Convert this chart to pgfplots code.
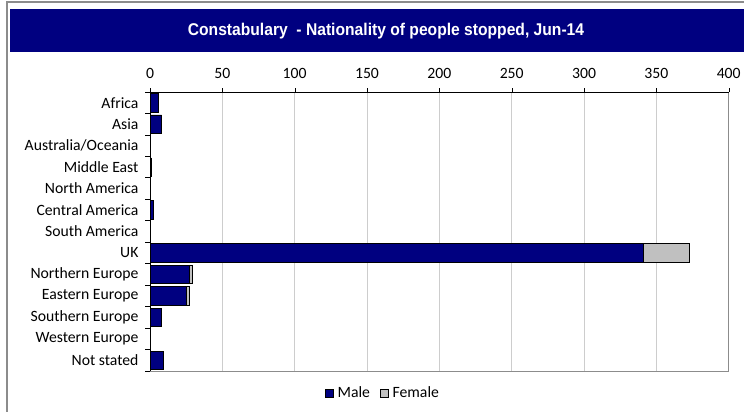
\documentclass[border=0pt]{standalone}
\usepackage{pgfplots}
\pgfplotsset{compat=1.18}
\usepackage{fontspec}
\setmainfont{Carlito}
\newfontfamily\titlefont{Liberation Sans}
\definecolor{navy}{RGB}{0,0,128}
\definecolor{fem}{RGB}{192,192,192}
\definecolor{gridc}{RGB}{205,205,205}
\definecolor{framec}{RGB}{140,140,140}
\begin{document}
\begin{tikzpicture}[x=1pt,y=1pt]
\useasboundingbox (0,0) rectangle (744,-412);
\fill[white] (0,0) rectangle (744,-412);
\draw[framec, line width=1.2pt] (7,-412) -- (7,-2) -- (744,-2);
\fill[navy] (10,-9) rectangle (744,-52);
\node[text=white, font=\titlefont\bfseries\fontsize{17}{19}\selectfont] at (386,-31) {\scalebox{0.92}[1]{Constabulary\ \ - Nationality of people stopped, Jun-14}};
\begin{axis}[at={(150pt,-371pt)}, anchor=south west, scale only axis,
  width=578.7pt, height=279pt,
  xbar stacked, bar width=18.5pt,
  xmin=0, xmax=400, ymin=-0.5, ymax=12.5,
  xtick={0,50,...,400}, xtick pos=right, xticklabel pos=right,
  tick align=outside, major tick length=4pt,
  x tick style={black}, y tick style={draw=none},
  ytick={0,...,12},
  yticklabels={Not stated,Western Europe,Southern Europe,Eastern Europe,Northern Europe,UK,South America,Central America,North America,Middle East,Australia/Oceania,Asia,Africa},
  /pgf/number format/assume math mode=true,
  ticklabel style={font=\fontsize{15.7}{17}\selectfont},
  yticklabel style={xshift=-4pt},
  xticklabel style={yshift=6pt},
  xmajorgrids, grid style={gridc, line width=0.8pt},
  axis line style={draw=none},
  legend columns=2,
  legend style={draw=none, at={(axis description cs:0.4026,-0.079)}, anchor=center,
    font=\fontsize{15.7}{17}\selectfont, /tikz/every even column/.append style={column sep=8pt}},
  legend image code/.code={\draw[#1] (0pt,-4pt) rectangle (8pt,4pt); \path (10pt,0pt);},
]
\addplot[fill=navy, draw=black, line width=0.6pt] coordinates {
(6,12) (8,11) (0,10) (1,9) (0,8) (2,7) (0,6) (341,5) (27,4) (25,3) (8,2) (0,1) (9,0)};
\addplot[fill=fem, draw=black, line width=0.6pt] coordinates {
(0,12) (0,11) (0,10) (0,9) (0,8) (0,7) (0,6) (32,5) (2,4) (2,3) (0,2) (0,1) (0,0)};
\legend{Male,Female}
\end{axis}
\draw[framec, line width=1pt] (150,-371) -- (728.7,-371) -- (728.7,-92);
\draw[black, line width=0.8pt] (150,-371) -- (150,-92) -- (728.7,-92);
\foreach \k in {0,...,13} {\draw[black, line width=0.8pt] (145,{-92-\k*279/13}) -- (150,{-92-\k*279/13});}
\end{tikzpicture}
\end{document}
